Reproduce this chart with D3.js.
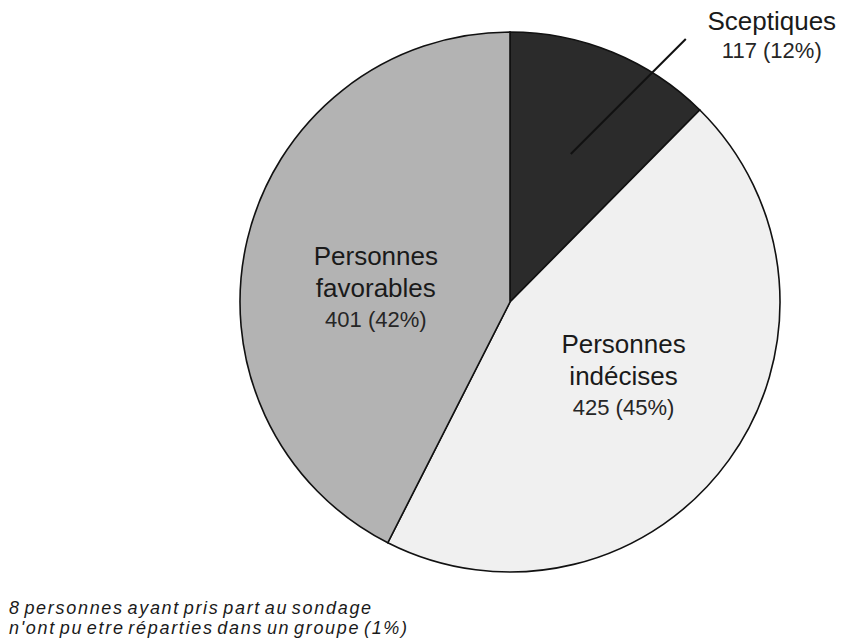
<!DOCTYPE html>
<html lang="fr">
<head>
    <meta charset="UTF-8">
    <title>Sondage</title>
    <script src="https://d3js.org/d3.v7.min.js"></script>
    <style>
        * { margin: 0; padding: 0; box-sizing: border-box; }
        body { background: #fff; font-family: "Liberation Sans", Arial, sans-serif; }
        .label-title { font-size: 26px; fill: #1a1a1a; text-anchor: middle; }
        .label-value { font-size: 22px; fill: #262626; text-anchor: middle; }
        .note { font-size: 18px; font-style: italic; fill: #1a1a1a; word-spacing: -3px; letter-spacing: 1.7px; }
    </style>
</head>
<body>
    <div id="chart"></div>
    <script>
        // données
        const categories = ["Sceptiques", "Personnes indécises", "Personnes favorables"];
        const counts = [117, 425, 401];
        const percents = [12, 45, 42];
        const fills = ["#2b2b2b", "#f0f0f0", "#b3b3b3"];
        const noteLines = [
            "8 personnes ayant pris part au sondage",
            "n'ont pu etre réparties dans un groupe (1%)"
        ];

        const Width = 843, Height = 644;
        const cx = 510, cy = 302, radius = 270;

        const data = categories.map((c, i) => ({ name: c, count: counts[i], pct: percents[i], fill: fills[i] }));

        const svg = d3.select("#chart").append("svg")
            .attr("width", Width)
            .attr("height", Height);

        const g = svg.append("g").attr("transform", `translate(${cx},${cy})`);

        const pie = d3.pie().value(d => d.count).sort(null);
        const arc = d3.arc().innerRadius(0).outerRadius(radius);
        const labelArc = d3.arc().innerRadius(140).outerRadius(140);
        const leaderArc = d3.arc().innerRadius(160).outerRadius(160);

        const arcs = pie(data);

        g.selectAll(".slice")
            .data(arcs)
            .enter()
            .append("path")
            .attr("class", "slice")
            .attr("d", arc)
            .attr("fill", d => d.data.fill)
            .attr("stroke", "#111")
            .attr("stroke-width", 1.6);

        // petits décalages pour les libellés internes
        const nudge = { "Personnes indécises": [0, 1], "Personnes favorables": [2, 28] };

        arcs.forEach((a, i) => {
            if (i === 0) {
                // libellé externe avec trait de rappel
                const [sx, sy] = leaderArc.centroid(a);
                const len = 115;
                g.append("line")
                    .attr("x1", sx).attr("y1", sy)
                    .attr("x2", sx + len).attr("y2", sy - len)
                    .attr("stroke", "#111")
                    .attr("stroke-width", 2);
                const tx = sx + len + 86, ty = sy - len - 9;
                g.append("text").attr("class", "label-title")
                    .attr("x", tx).attr("y", ty)
                    .text(a.data.name);
                g.append("text").attr("class", "label-value")
                    .attr("x", tx).attr("y", ty + 28)
                    .text(`${a.data.count} (${a.data.pct}%)`);
                return;
            }
            const [lx, ly] = labelArc.centroid(a);
            const [ox, oy] = nudge[a.data.name] || [0, 0];
            const words = a.data.name.split(" ");
            const t = g.append("text").attr("class", "label-title");
            words.forEach((w, k) => {
                t.append("tspan")
                    .attr("x", lx + ox)
                    .attr("y", ly + oy - 32 + k * 32)
                    .text(w);
            });
            g.append("text").attr("class", "label-value")
                .attr("x", lx + ox)
                .attr("y", ly + oy + 30)
                .text(`${a.data.count} (${a.data.pct}%)`);
        });

        svg.append("g").selectAll("text")
            .data(noteLines)
            .enter()
            .append("text")
            .attr("class", "note")
            .attr("x", 9)
            .attr("y", (d, i) => 614 + i * 20)
            .text(d => d);
    </script>
</body>
</html>
